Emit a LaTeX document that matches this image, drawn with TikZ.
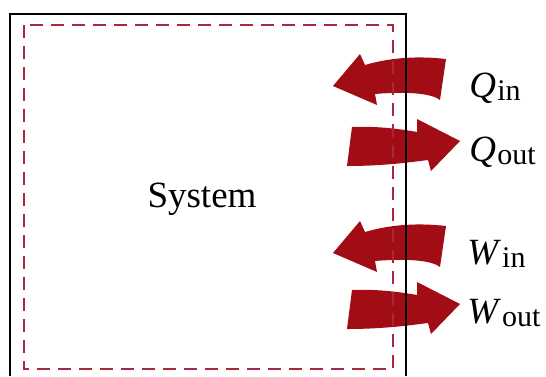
\documentclass[tikz,border=0pt]{standalone}
\usepackage{fontspec}
\setmainfont{Liberation Serif}
\definecolor{heatred}{RGB}{162,12,20}
\definecolor{bndred}{RGB}{165,40,60}
\newcommand\sublabel[2]{\textit{#1}\kern0.6pt\raisebox{-1.5pt}{\fontsize{15}{15}\selectfont #2}}
\tikzset{
  heat/.style={fill=heatred},
  frameline/.style={draw=black,line width=1pt},
  boundary/.style={draw=bndred,line width=1pt,dash pattern=on 6.5pt off 4pt},
  lbl/.style={inner sep=0pt,anchor=base west,font=\fontsize{18.5}{20}\selectfont},
  inarrow/.pic={
    \fill[heat] (333,86) -- (360,54) -- (365,65) .. controls (392,57) and (420,56) .. (446,59)
      -- (440,100) .. controls (433,94) and (410,91) .. (375,94) -- (377,105) -- cycle;
  },
  outarrow/.pic={
    \fill[heat] (352,127) .. controls (378,126) and (400,129) .. (417,132) -- (417,119) -- (460,141)
      -- (431,171) -- (428,160) .. controls (405,163) and (380,166) .. (347,166) -- cycle;
  },
}
\begin{document}
\begin{tikzpicture}[x=0.5pt,y=-0.5pt]
\useasboundingbox (0,0) rectangle (546,376);
% arrows
\pic at (0,0) {inarrow};
\pic at (0,0) {outarrow};
\pic at (0,167) {inarrow};
\pic at (0,163) {outarrow};
% frame and boundary
\draw[frameline] (10,376) -- (10,14) -- (406,14) -- (406,376);
\draw[boundary] (24,25) rectangle (393,369);
% labels
\node[inner sep=0pt,anchor=base,font=\fontsize{18.5}{20}\selectfont] (sys) at (202,207) {System};
\node[lbl] (qin) at (469,97) {\sublabel{Q}{in}};
\node[lbl] (qout) at (469,161) {\sublabel{Q}{out}};
\node[lbl] (win) at (467,264) {\sublabel{W}{in}};
\node[lbl] (wout) at (467,323) {\sublabel{W}{out}};
\end{tikzpicture}
\end{document}
